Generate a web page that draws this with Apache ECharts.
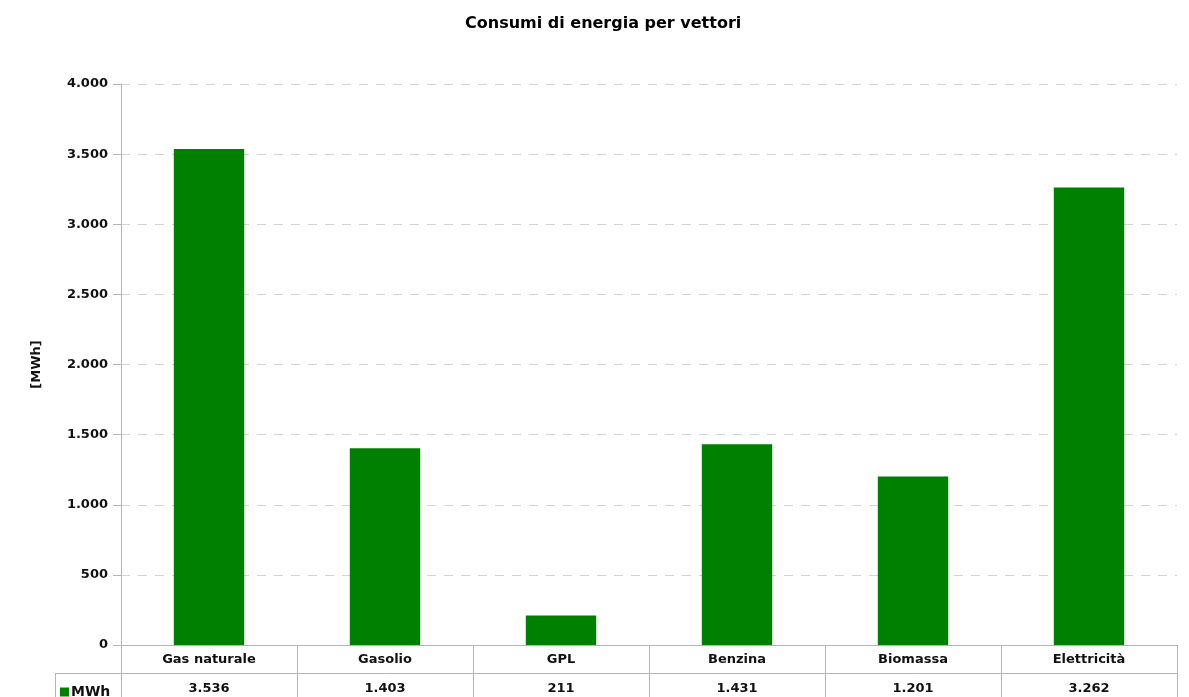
<!DOCTYPE html>
<html>
<head>
<meta charset="utf-8">
<script src="https://cdn.jsdelivr.net/npm/echarts@6/dist/echarts.min.js"></script>
<style>
  html, body { margin: 0; padding: 0; background: #fff; }
  #chart { width: 1189px; height: 697px; }
</style>
</head>
<body>
<div id="chart"></div>
<script>
// Energy consumption by carrier, MWh
const categories = ['Gas naturale', 'Gasolio', 'GPL', 'Benzina', 'Biomassa', 'Elettricità'];
const mwh = [3536, 1403, 211, 1431, 1201, 3262];
const seriesName = 'MWh';
const yMax = 4000;
const yStep = 500;

// Italian thousands separator: 3536 -> "3.536"
function fmt(v) {
  return String(Math.round(v)).replace(/\B(?=(\d{3})+(?!\d))/g, '.');
}

const FONT = 'DejaVu Sans, Verdana, sans-serif';
const GREEN = '#008000';
const LINE = '#b4b4b4';
const labelText = { fontFamily: FONT, fontSize: 13, fontWeight: 'bold', color: '#111' };

const chart = echarts.init(document.getElementById('chart'), null, { renderer: 'canvas' });

chart.setOption({
  animation: false,
  title: {
    text: 'Consumi di energia per vettori',
    left: 465,
    top: 13,
    padding: 0,
    textStyle: { fontFamily: FONT, fontSize: 16, fontWeight: 'bold', color: '#000', lineHeight: 22 }
  },
  legend: {
    data: [{ name: seriesName, icon: 'rect' }],
    left: 60,
    top: 685,
    padding: 0,
    itemWidth: 9,
    itemHeight: 9,
    itemGap: 4,
    textStyle: Object.assign({}, labelText, { fontSize: 14, padding: [0, 0, 0, -3] })
  },
  grid: { left: 121, right: 12, top: 84, bottom: 52, containLabel: false },
  xAxis: [
    {
      type: 'category',
      data: categories,
      position: 'bottom',
      axisLine: { show: true, lineStyle: { color: LINE, width: 1 } },
      axisTick: { show: true, length: 60, alignWithLabel: false, lineStyle: { color: LINE } },
      axisLabel: Object.assign({ margin: 8 }, labelText),
      splitLine: { show: false }
    },
    {
      // value row of the data table
      type: 'category',
      data: mwh.map(fmt),
      position: 'bottom',
      offset: 28,
      axisLine: { show: true, lineStyle: { color: LINE, width: 1 } },
      axisTick: { show: false },
      axisLabel: Object.assign({ margin: 9 }, labelText),
      splitLine: { show: false }
    }
  ],
  yAxis: {
    type: 'value',
    min: 0,
    max: yMax,
    interval: yStep,
    name: '[MWh]',
    nameLocation: 'middle',
    nameGap: 78,
    nameRotate: 90,
    nameTextStyle: labelText,
    axisLine: { show: true, lineStyle: { color: LINE, width: 1 } },
    axisTick: { show: true, length: 8, lineStyle: { color: LINE } },
    axisLabel: Object.assign({ margin: 13, formatter: fmt }, labelText),
    splitLine: { show: true, lineStyle: { color: '#d3d3d3', type: [9, 8], width: 1 } }
  },
  series: [
    {
      name: seriesName,
      type: 'bar',
      xAxisIndex: 0,
      data: mwh,
      barWidth: '40%',
      itemStyle: { color: GREEN }
    }
  ],
  graphic: [
    // legend cell borders of the data table
    { type: 'line', shape: { x1: 55, y1: 673.5, x2: 121, y2: 673.5 }, style: { stroke: LINE, lineWidth: 1 }, silent: true },
    { type: 'line', shape: { x1: 55.5, y1: 673, x2: 55.5, y2: 697 }, style: { stroke: LINE, lineWidth: 1 }, silent: true }
  ]
});
</script>
</body>
</html>
